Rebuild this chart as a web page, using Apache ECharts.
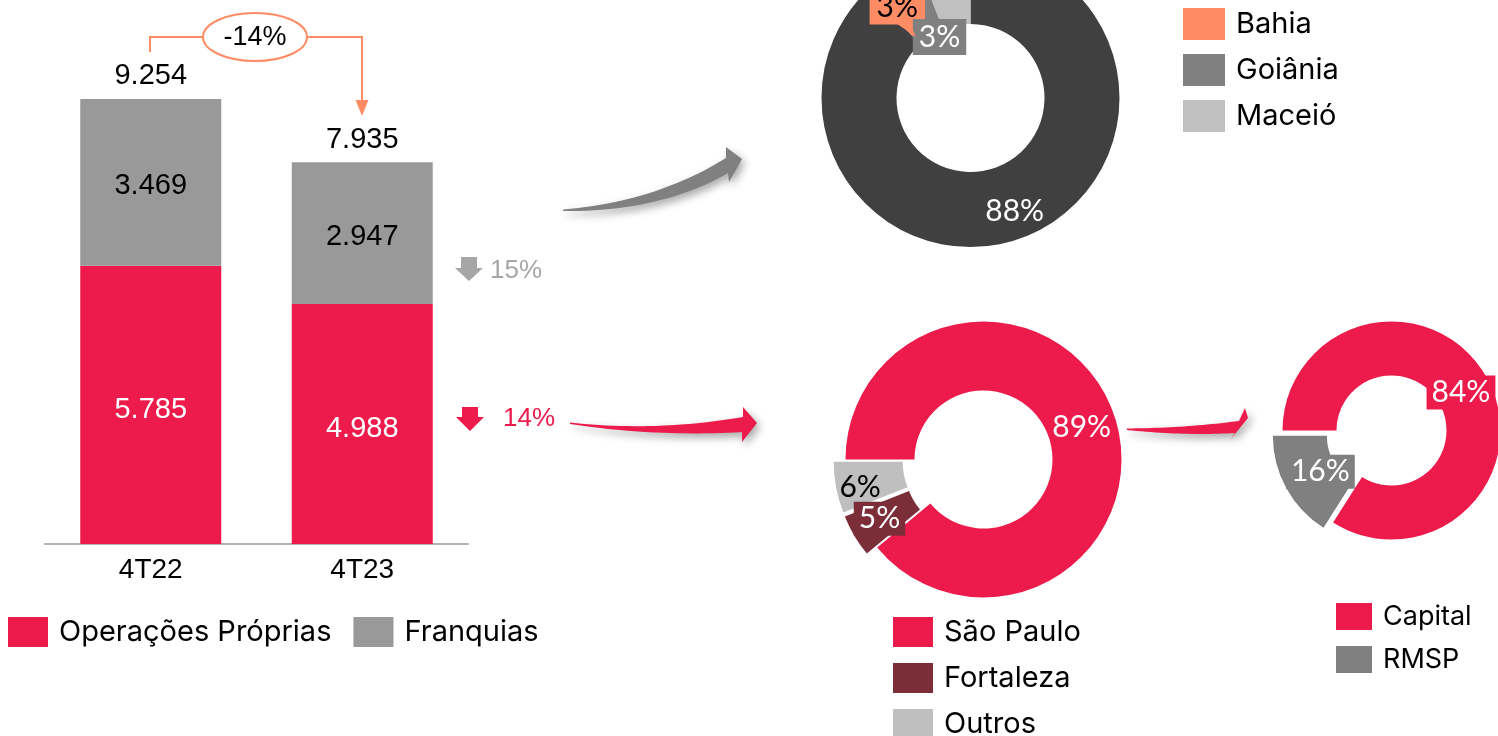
<!DOCTYPE html>
<html>
<head>
<meta charset="utf-8">
<script src="https://cdn.jsdelivr.net/npm/echarts@6/dist/echarts.min.js"></script>
<style>
html,body{margin:0;padding:0;background:#fff;}
#main{width:1498px;height:736px;}
</style>
</head>
<body>
<div id="main"></div>
<script>
// ---- data ----
const categories = ['4T22', '4T23'];
const operacoesProprias = [5785, 4988];
const franquias = [3469, 2947];
const totais = [9254, 7935];
const variacaoTotal = '-14%';
const variacaoFranquias = '15%';
const variacaoProprias = '14%';

const franquiasNomes = ['Demais', 'Bahia', 'Goiânia', 'Maceió'];
const franquiasPct = [88, 3, 3, 6];

const propriasNomes = ['São Paulo', 'Fortaleza', 'Outros'];
const propriasPct = [89, 5, 6];

const spNomes = ['Capital', 'RMSP'];
const spPct = [84, 16];

// ---- styles ----
const RED = '#EC1B4B';
const GRAY_BAR = '#999999';
const ORANGE = '#FF8C64';
const NUM_FONT = 'Liberation Sans';
const PIE_FONT = 'Lato';
const LEG_FONT = 'Inter';

function fmt(v) {
  return String(v).replace(/\B(?=(\d{3})+(?!\d))/g, '.');
}

function quad(p0, c, p2, n) {
  const pts = [];
  for (let i = 0; i <= n; i++) {
    const t = i / n, u = 1 - t;
    pts.push([u*u*p0[0] + 2*u*t*c[0] + t*t*p2[0], u*u*p0[1] + 2*u*t*c[1] + t*t*p2[1]]);
  }
  return pts;
}
function curvedArrow(tailTop, cTop, endTop, headA, tip, headB, endBot, cBot, tailBot) {
  const top = quad(tailTop, cTop, endTop, 24);
  const bot = quad(tailBot, cBot, endBot, 24).reverse();
  return top.concat([headA, tip, headB]).concat(bot);
}
const shadow = { shadowBlur: 8, shadowColor: 'rgba(0,0,0,0.35)', shadowOffsetX: 3, shadowOffsetY: 4 };

const chart = echarts.init(document.getElementById('main'), null, { renderer: 'canvas' });

const pieLabelBase = {
  show: true, position: 'inside', fontFamily: PIE_FONT, fontSize: 30, lineHeight: 32,
  formatter: p => p.value + '%'
};
const boxPad = [2, 5, 0, 5];

// label settings for selected (exploded) slices must be repeated in the select state
function selLabel(lbl) {
  return { label: lbl, select: { label: lbl } };
}

const option = {
  animation: false,
  backgroundColor: '#fff',
  grid: { left: 45, right: 1030, top: 63, bottom: 192 },
  xAxis: {
    type: 'category', data: categories,
    axisLine: { lineStyle: { color: '#B0B0B0', width: 2 } },
    axisTick: { show: false },
    axisLabel: { color: '#000', fontSize: 28, fontFamily: NUM_FONT, margin: 12 }
  },
  yAxis: { type: 'value', min: 0, max: 10000, show: false },
  legend: [
    {
      left: 8, top: 617, height: 60, padding: 0, orient: 'horizontal', icon: 'rect',
      itemWidth: 40, itemHeight: 30, itemGap: 22,
      data: ['Operações Próprias', 'Franquias'],
      textStyle: { fontSize: 29, lineHeight: 30, fontFamily: LEG_FONT, color: '#000', padding: [0, 0, 0, 6] }
    },
    {
      left: 1183, top: 7, height: 200, padding: 0, orient: 'vertical', icon: 'rect',
      itemWidth: 42, itemHeight: 32, itemGap: 12,
      data: ['Bahia', 'Goiânia', 'Maceió'],
      textStyle: { fontSize: 29, lineHeight: 32, fontFamily: LEG_FONT, color: '#000', padding: [2, 0, 0, 6] }
    },
    {
      left: 893, top: 617, height: 200, padding: 0, orient: 'vertical', icon: 'rect',
      itemWidth: 40, itemHeight: 30, itemGap: 16,
      data: ['São Paulo', 'Fortaleza', 'Outros'],
      textStyle: { fontSize: 29, lineHeight: 30, fontFamily: LEG_FONT, color: '#000', padding: [0, 0, 0, 6] }
    },
    {
      left: 1336, top: 603, height: 200, padding: 0, orient: 'vertical', icon: 'rect',
      itemWidth: 36, itemHeight: 27, itemGap: 16,
      data: ['Capital', 'RMSP'],
      textStyle: { fontSize: 27, lineHeight: 27, fontFamily: LEG_FONT, color: '#000', padding: [0, 0, 0, 6] }
    }
  ],
  series: [
    {
      name: 'Operações Próprias', type: 'bar', stack: 'total', barWidth: 141,
      data: operacoesProprias,
      itemStyle: { color: RED },
      label: { show: true, position: 'inside', offset: [0, 5], color: '#fff', fontSize: 29, fontFamily: NUM_FONT, formatter: p => fmt(p.value) }
    },
    {
      name: 'Franquias', type: 'bar', stack: 'total', barWidth: 141,
      data: franquias,
      itemStyle: { color: GRAY_BAR },
      label: { show: true, position: 'inside', offset: [0, 4], color: '#000', fontSize: 29, fontFamily: NUM_FONT, formatter: p => fmt(p.value) }
    },
    {
      name: 'Total', type: 'bar', stack: 'total', barWidth: 141, silent: true,
      data: categories.map(() => 0),
      itemStyle: { color: 'transparent' },
      label: { show: true, position: 'top', distance: 8, color: '#000', fontSize: 29, fontFamily: NUM_FONT, formatter: p => fmt(totais[p.dataIndex]) }
    },
    {
      name: 'Franquias por praça', type: 'pie', center: [970.5, 98], radius: [74, 149],
      startAngle: 90, clockwise: true, avoidLabelOverlap: false,
      labelLayout: { hideOverlap: false },
      labelLine: { show: false },
      label: pieLabelBase,
      emphasis: { disabled: true },
      data: [
        { name: franquiasNomes[0], value: franquiasPct[0], itemStyle: { color: '#404040' }, label: { color: '#fff', offset: [2, 7] } },
        { name: franquiasNomes[1], value: franquiasPct[1], itemStyle: { color: ORANGE },
          label: { color: '#000', backgroundColor: ORANGE, padding: [2, 7, 0, 7], offset: [-3, 0] } },
        { name: franquiasNomes[2], value: franquiasPct[2], itemStyle: { color: '#808080' },
          label: { color: '#fff', backgroundColor: '#808080', padding: [3, 6, 1, 6], offset: [21, 41] } },
        { name: franquiasNomes[3], value: franquiasPct[3], itemStyle: { color: '#C0C0C0' }, label: { show: false } }
      ]
    },
    {
      name: 'Próprias por praça', type: 'pie', center: [983.5, 459.5], radius: [69, 138],
      startAngle: 180, clockwise: true, avoidLabelOverlap: false,
      labelLayout: { hideOverlap: false },
      selectedMode: 'multiple', selectedOffset: 12,
      labelLine: { show: false },
      label: pieLabelBase,
      emphasis: { disabled: true },
      data: [
        { name: propriasNomes[0], value: propriasPct[0], itemStyle: { color: RED }, label: { color: '#fff', offset: [-2, 4] } },
        Object.assign({ name: propriasNomes[1], value: propriasPct[1], selected: true, itemStyle: { color: '#7B2D38' } },
          selLabel({ color: '#fff', backgroundColor: '#7B2D38', padding: boxPad, offset: [-2, -1] })),
        Object.assign({ name: propriasNomes[2], value: propriasPct[2], selected: true, itemStyle: { color: '#BFBFBF' } },
          selLabel({ color: '#000', offset: [-7, 6] }))
      ]
    },
    {
      name: 'Capital e RMSP', type: 'pie', center: [1391.5, 430.5], radius: [55, 109],
      startAngle: 180, clockwise: true, avoidLabelOverlap: false,
      labelLayout: { hideOverlap: false },
      selectedMode: 'multiple', selectedOffset: 11,
      labelLine: { show: false },
      label: pieLabelBase,
      emphasis: { disabled: true },
      data: [
        { name: spNomes[0], value: spPct[0], itemStyle: { color: RED },
          label: { color: '#fff', backgroundColor: RED, padding: boxPad, offset: [-5, 3] } },
        Object.assign({ name: spNomes[1], value: spPct[1], selected: true, itemStyle: { color: '#808080' } },
          selLabel({ color: '#fff', backgroundColor: '#808080', padding: boxPad, offset: [13, -5] }))
      ]
    }
  ],
  graphic: [
    // total change bracket
    { type: 'polyline', shape: { points: [[150, 52], [150, 37], [203, 37]] }, style: { stroke: ORANGE, lineWidth: 2, fill: null }, z: 50 },
    { type: 'polyline', shape: { points: [[307, 37], [362, 37], [362, 102]] }, style: { stroke: ORANGE, lineWidth: 2, fill: null }, z: 50 },
    { type: 'polygon', shape: { points: [[355.5, 100], [368.5, 100], [362, 116]] }, style: { fill: ORANGE }, z: 50 },
    { type: 'ellipse', shape: { cx: 255, cy: 37, rx: 52, ry: 24 }, style: { stroke: ORANGE, lineWidth: 2, fill: '#fff' }, z: 50 },
    { type: 'text', x: 255, y: 38, z: 51, style: { text: variacaoTotal, fill: '#000', fontSize: 27, fontFamily: NUM_FONT, align: 'center', verticalAlign: 'middle', textAlign: 'center', textVerticalAlign: 'middle' } },
    // down arrows
    { type: 'polygon', shape: { points: [[461, 257], [477, 257], [477, 268], [483, 268], [469, 281], [455, 268], [461, 268]] }, style: { fill: '#A6A6A6' }, z: 50 },
    { type: 'text', x: 490, y: 271, z: 51, style: { text: variacaoFranquias, fill: '#A6A6A6', fontSize: 26, fontFamily: NUM_FONT, align: 'left', verticalAlign: 'middle', textAlign: 'left', textVerticalAlign: 'middle' } },
    { type: 'polygon', shape: { points: [[462, 407], [478, 407], [478, 417], [484, 417], [470, 431], [456, 417], [462, 417]] }, style: { fill: RED }, z: 50 },
    { type: 'text', x: 503, y: 419, z: 51, style: { text: variacaoProprias, fill: RED, fontSize: 26, fontFamily: NUM_FONT, align: 'left', verticalAlign: 'middle', textAlign: 'left', textVerticalAlign: 'middle' } },
    // callout pointer for Bahia label
    { type: 'polygon', shape: { points: [[893, 21], [909, 21], [916, 37]] }, style: { fill: ORANGE }, z: 60 },
    // curved arrows
    { type: 'polygon', z: 40, shape: { points: curvedArrow([563, 209.5], [655, 202], [726, 158], [726, 147], [742, 159], [729, 182], [728, 173], [660, 212], [563, 211]) },
      style: Object.assign({ fill: '#808080' }, shadow) },
    { type: 'polygon', z: 40, shape: { points: curvedArrow([570, 422.5], [656, 432], [743, 417], [743, 407], [757, 423], [742, 442], [742, 432], [656, 437], [570, 424]) },
      style: Object.assign({ fill: RED }, shadow) },
    { type: 'polygon', z: 40, shape: { points: curvedArrow([1127, 428.5], [1185, 428], [1239, 421], [1245, 408], [1248, 418], [1230, 440], [1235, 433], [1185, 436], [1127, 430]) },
      style: Object.assign({ fill: RED }, shadow) }
  ]
};

chart.setOption(option);
</script>
</body>
</html>
